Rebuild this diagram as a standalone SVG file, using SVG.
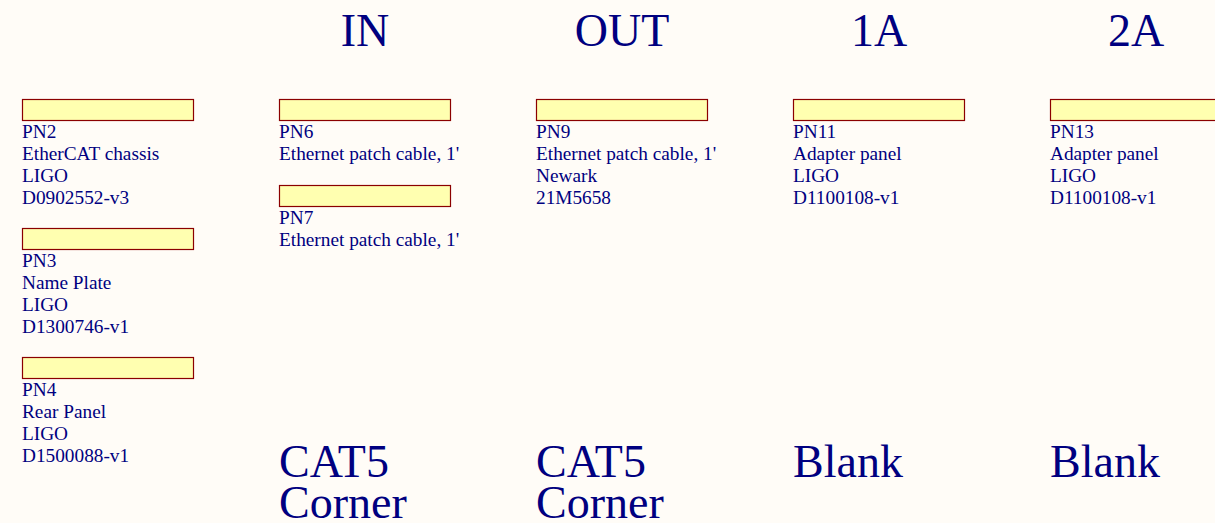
<svg xmlns="http://www.w3.org/2000/svg" width="1215" height="523" viewBox="0 0 1215 523">
<style>
.bg{fill:#FFFCF7}
.box{fill:#FFFFB0;stroke:#8B0000;stroke-width:1.2}
.t{font-family:"Liberation Serif","Times New Roman",serif;font-size:19.3px;fill:#000080}
.h{font-family:"Liberation Serif","Times New Roman",serif;font-size:46px;fill:#000080}
.c{text-anchor:middle}
</style>
<rect class="bg" x="0" y="0" width="1215" height="523"/>
<g id="titles">
<text class="h c" x="365" y="46">IN</text>
<text class="h c" x="622" y="46">OUT</text>
<text class="h c" x="879" y="46">1A</text>
<text class="h c" x="1136" y="46">2A</text>
</g>
<g id="pn2">
<rect class="box" x="22.5" y="99.5" width="171" height="21"/>
<text class="t" x="22" y="137.5">PN2</text>
<text class="t" x="22" y="159.5">EtherCAT chassis</text>
<text class="t" x="22" y="181.5">LIGO</text>
<text class="t" x="22" y="203.5">D0902552-v3</text>
</g>
<g id="pn3">
<rect class="box" x="22.5" y="228.5" width="171" height="21"/>
<text class="t" x="22" y="266.5">PN3</text>
<text class="t" x="22" y="288.5">Name Plate</text>
<text class="t" x="22" y="310.5">LIGO</text>
<text class="t" x="22" y="332.5">D1300746-v1</text>
</g>
<g id="pn4">
<rect class="box" x="22.5" y="357.5" width="171" height="21"/>
<text class="t" x="22" y="395.5">PN4</text>
<text class="t" x="22" y="417.5">Rear Panel</text>
<text class="t" x="22" y="439.5">LIGO</text>
<text class="t" x="22" y="461.5">D1500088-v1</text>
</g>
<g id="pn6">
<rect class="box" x="279.5" y="99.5" width="171" height="21"/>
<text class="t" x="279" y="137.5">PN6</text>
<text class="t" x="279" y="159.5">Ethernet patch cable, 1'</text>
</g>
<g id="pn7">
<rect class="box" x="279.5" y="185.5" width="171" height="21"/>
<text class="t" x="279" y="223.5">PN7</text>
<text class="t" x="279" y="245.5">Ethernet patch cable, 1'</text>
</g>
<g id="pn9">
<rect class="box" x="536.5" y="99.5" width="171" height="21"/>
<text class="t" x="536" y="137.5">PN9</text>
<text class="t" x="536" y="159.5">Ethernet patch cable, 1'</text>
<text class="t" x="536" y="181.5">Newark</text>
<text class="t" x="536" y="203.5">21M5658</text>
</g>
<g id="pn11">
<rect class="box" x="793.5" y="99.5" width="171" height="21"/>
<text class="t" x="793" y="137.5">PN11</text>
<text class="t" x="793" y="159.5">Adapter panel</text>
<text class="t" x="793" y="181.5">LIGO</text>
<text class="t" x="793" y="203.5">D1100108-v1</text>
</g>
<g id="pn13">
<rect class="box" x="1050.5" y="99.5" width="171" height="21"/>
<text class="t" x="1050" y="137.5">PN13</text>
<text class="t" x="1050" y="159.5">Adapter panel</text>
<text class="t" x="1050" y="181.5">LIGO</text>
<text class="t" x="1050" y="203.5">D1100108-v1</text>
</g>
<g id="footers">
<text class="h" x="279" y="477">CAT5</text>
<text class="h" x="279" y="518">Corner</text>
<text class="h" x="536" y="477">CAT5</text>
<text class="h" x="536" y="518">Corner</text>
<text class="h" x="793" y="477">Blank</text>
<text class="h" x="1050" y="477">Blank</text>
</g>
<g id="connectors"/>
</svg>
